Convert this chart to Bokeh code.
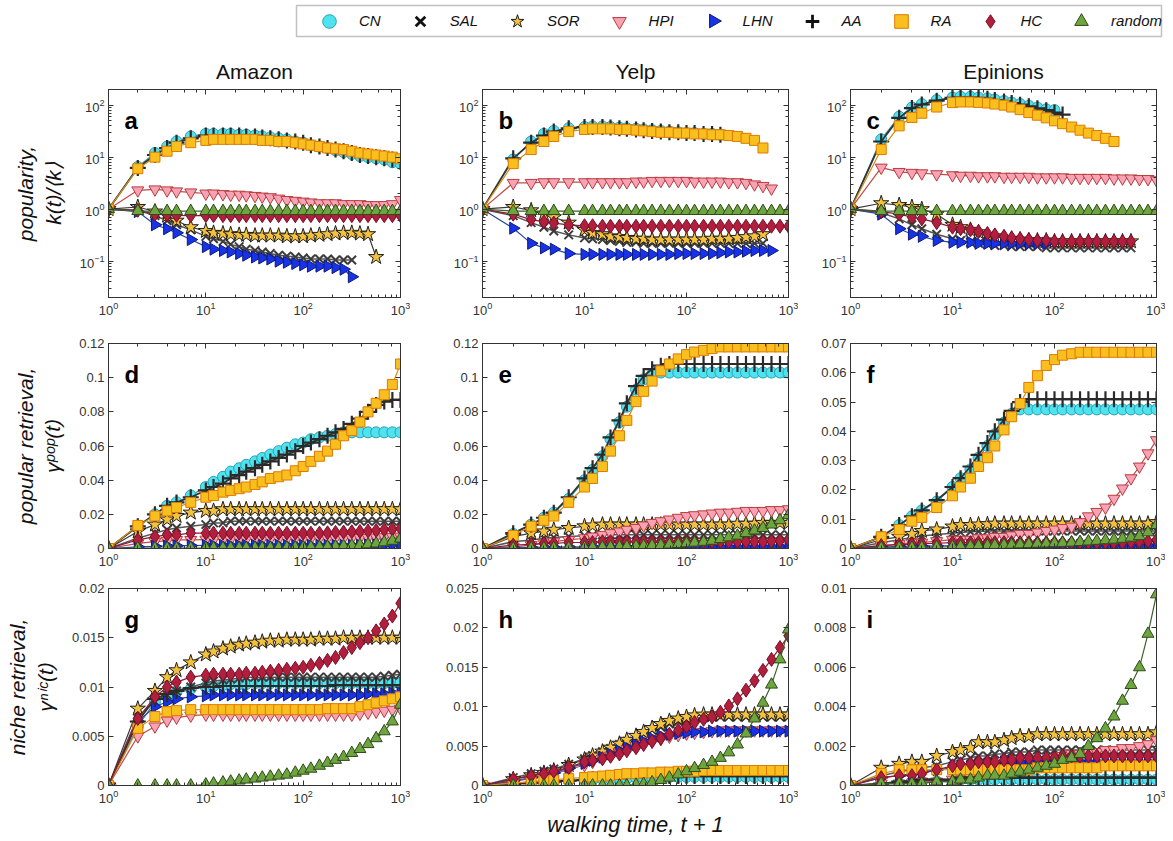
import math
from bokeh.plotting import figure
from bokeh.models import (Range1d, LogAxis, LinearAxis, LogTicker, FixedTicker,
                          Label, Legend, LegendItem, BoxAnnotation)
from bokeh.layouts import column, row
from bokeh.embed import file_html
from bokeh.resources import INLINE

FONT = "Liberation Sans"
AXC = "#333333"

# ---------------- data ----------------
T = [1, 2, 3, 4, 5, 7, 10, 12, 15, 18, 22, 26, 32, 38, 46, 56, 68, 83, 100, 120,
     147, 178, 215, 260, 316, 383, 464, 562, 681, 825, 1000]
METHODS = ["CN", "SAL", "SOR", "HPI", "LHN", "AA", "RA", "HC", "random"]
DATASETS = ["Amazon", "Yelp", "Epinions"]
PANEL_LETTERS = ["a", "b", "c", "d", "e", "f", "g", "h", "i"]
ROW_LABELS = ["popularity,\nk(t)/\u27e8k\u27e9",
              "popular retrieval,\n\u03b3\u1d56\u1d52\u1d56(t)",
              "niche retrieval,\n\u03b3\u207f\u2071\u1d9c(t)"]
X_LABEL = "walking time, t + 1"

Y_TICKS_POPRET_AMZ = [0, 0.02, 0.04, 0.06, 0.08, 0.1, 0.12]
Y_LABELS_POPRET_AMZ = ["0", "0.02", "0.04", "0.06", "0.08", "0.1", "0.12"]
Y_TICKS_POPRET_YLP = [0, 0.02, 0.04, 0.06, 0.08, 0.1, 0.12]
Y_LABELS_POPRET_YLP = ["0", "0.02", "0.04", "0.06", "0.08", "0.1", "0.12"]
Y_TICKS_POPRET_EPI = [0, 0.01, 0.02, 0.03, 0.04, 0.05, 0.06, 0.07]
Y_LABELS_POPRET_EPI = ["0", "0.01", "0.02", "0.03", "0.04", "0.05", "0.06", "0.07"]
Y_TICKS_NICHE_AMZ = [0, 0.005, 0.01, 0.015, 0.02]
Y_LABELS_NICHE_AMZ = ["0", "0.005", "0.01", "0.015", "0.02"]
Y_TICKS_NICHE_YLP = [0, 0.005, 0.01, 0.015, 0.02, 0.025]
Y_LABELS_NICHE_YLP = ["0", "0.005", "0.01", "0.015", "0.02", "0.025"]
Y_TICKS_NICHE_EPI = [0, 0.002, 0.004, 0.006, 0.008, 0.01]
Y_LABELS_NICHE_EPI = ["0", "0.002", "0.004", "0.006", "0.008", "0.01"]

# (a) Amazon popularity
AMZ_POP_CN = [1, 6.5, 12, 16, 20, 25, 28, 28, 28, 28, 27, 27, 26, 25, 24, 23, 22, 20, 19, 17, 16, 15, 13.5, 12.5, 11.5, 10.5, 10, 9.5, 9, 8, 7.5]
AMZ_POP_SAL = [1, 0.95, 0.75, 0.6, 0.5, 0.4, 0.3, 0.27, 0.24, 0.21, 0.19, 0.17, 0.16, 0.15, 0.14, 0.13, 0.125, 0.12, 0.115, 0.11, 0.11, 0.11, 0.105, 0.105, 0.105]
AMZ_POP_SOR = [1, 1.1, 0.9, 0.75, 0.6, 0.45, 0.38, 0.35, 0.34, 0.33, 0.32, 0.32, 0.31, 0.31, 0.31, 0.31, 0.3, 0.3, 0.3, 0.31, 0.32, 0.33, 0.34, 0.35, 0.35, 0.34, 0.33, 0.12]
AMZ_POP_HPI = [1, 2.3, 2.4, 2.3, 2.2, 2.1, 2.0, 2.0, 1.95, 1.9, 1.9, 1.85, 1.8, 1.75, 1.7, 1.6, 1.5, 1.45, 1.4, 1.35, 1.3, 1.3, 1.3, 1.25, 1.25, 1.25, 1.2, 1.2, 1.2, 1.25, 1.5]
AMZ_POP_LHN = [1, 0.9, 0.5, 0.42, 0.35, 0.26, 0.19, 0.17, 0.16, 0.15, 0.14, 0.13, 0.12, 0.115, 0.11, 0.1, 0.095, 0.09, 0.085, 0.08, 0.08, 0.08, 0.075, 0.07, 0.05]
AMZ_POP_AA = [1, 6.2, 11, 15, 19, 23, 26, 26, 26, 26, 26, 25, 25, 24, 23, 22, 21, 20, 19, 17, 16, 15, 14, 13, 12, 11, 10.5, 10, 9.5, 9, 8.2]
AMZ_POP_RA = [1, 6, 10, 13, 16, 19, 21, 22, 22, 22, 22, 22, 22, 21, 21, 20, 20, 19, 18, 17, 16, 15, 14.5, 14, 13, 12, 11.5, 11, 10.5, 10, 9.3]
AMZ_POP_HC = [1, 0.95, 0.8, 0.78, 0.76, 0.75, 0.75, 0.75, 0.75, 0.75, 0.75, 0.75, 0.75, 0.75, 0.75, 0.75, 0.75, 0.75, 0.75, 0.75, 0.75, 0.75, 0.75, 0.75, 0.75, 0.75, 0.75, 0.75, 0.75, 0.75, 0.75]
AMZ_POP_RND = [1, 0.92, 0.92, 0.92, 0.92, 0.92, 0.92, 0.92, 0.92, 0.92, 0.92, 0.92, 0.92, 0.92, 0.92, 0.92, 0.92, 0.92, 0.92, 0.92, 0.92, 0.92, 0.92, 0.92, 0.92, 0.92, 0.92, 0.92, 0.92, 0.92, 0.92]

# (b) Yelp popularity
YLP_POP_CN = [1, 9, 20, 28, 32, 36, 38, 39, 39, 38, 37, 36, 35, 34, 33, 32, 31, 30, 29, 29, 28, 28, 27]
YLP_POP_SAL = [1, 0.75, 0.55, 0.45, 0.38, 0.32, 0.28, 0.27, 0.26, 0.25, 0.24, 0.23, 0.23, 0.22, 0.22, 0.22, 0.22, 0.22, 0.22, 0.22, 0.22, 0.22, 0.22, 0.22, 0.22, 0.22, 0.22, 0.22]
YLP_POP_SOR = [1, 1.1, 0.95, 0.8, 0.7, 0.55, 0.4, 0.35, 0.33, 0.3, 0.29, 0.28, 0.27, 0.27, 0.26, 0.26, 0.26, 0.26, 0.26, 0.26, 0.26, 0.27, 0.27, 0.27, 0.28, 0.29, 0.3, 0.33]
YLP_POP_HPI = [1, 3.2, 3.2, 3.3, 3.3, 3.3, 3.3, 3.3, 3.3, 3.3, 3.3, 3.3, 3.4, 3.4, 3.5, 3.5, 3.5, 3.5, 3.5, 3.4, 3.4, 3.4, 3.4, 3.3, 3.3, 3.2, 3.0, 2.8, 2.5]
YLP_POP_LHN = [1, 0.43, 0.22, 0.18, 0.17, 0.14, 0.135, 0.135, 0.135, 0.135, 0.135, 0.135, 0.135, 0.135, 0.135, 0.135, 0.135, 0.14, 0.14, 0.14, 0.14, 0.14, 0.145, 0.15, 0.15, 0.155, 0.16, 0.16, 0.16]
YLP_POP_AA = [1, 9.5, 19, 26, 31, 36, 38, 38, 38, 37, 36, 35, 34, 33, 32, 31, 30, 30, 29, 29, 28, 28, 27]
YLP_POP_RA = [1, 7.5, 14, 20, 25, 31, 34, 35, 35, 35, 34, 34, 33, 32, 31, 30, 30, 29, 29, 28, 28, 27, 27, 26, 25, 23, 21, 15]
YLP_POP_HC = [1, 0.8, 0.63, 0.57, 0.54, 0.5, 0.48, 0.48, 0.47, 0.47, 0.47, 0.47, 0.47, 0.47, 0.47, 0.47, 0.47, 0.47, 0.47, 0.47, 0.47, 0.47, 0.47, 0.47, 0.47, 0.47, 0.47, 0.47, 0.47, 0.47, 0.47]
YLP_POP_RND = [1, 0.92, 0.92, 0.92, 0.92, 0.92, 0.92, 0.92, 0.92, 0.92, 0.92, 0.92, 0.92, 0.92, 0.92, 0.92, 0.92, 0.92, 0.92, 0.92, 0.92, 0.92, 0.92, 0.92, 0.92, 0.92, 0.92, 0.92, 0.92, 0.92, 0.92]

# (c) Epinions popularity
EPI_POP_CN = [1, 22, 60, 90, 105, 125, 140, 145, 145, 140, 135, 128, 120, 112, 105, 97, 90, 83, 80]
EPI_POP_SAL = [1, 0.85, 0.65, 0.5, 0.42, 0.33, 0.27, 0.25, 0.23, 0.22, 0.21, 0.2, 0.2, 0.19, 0.19, 0.19, 0.19, 0.18, 0.18, 0.18, 0.18, 0.18, 0.18, 0.18, 0.18, 0.18, 0.18, 0.18]
EPI_POP_SOR = [1, 1.3, 1.2, 1.1, 1.0, 0.8, 0.5, 0.45, 0.4, 0.36, 0.32, 0.3, 0.28, 0.27, 0.26, 0.25, 0.25, 0.25, 0.24, 0.24, 0.24, 0.24, 0.24, 0.24, 0.24, 0.24, 0.24, 0.24]
EPI_POP_HPI = [1, 6.3, 5.2, 5.0, 4.9, 4.7, 4.5, 4.4, 4.4, 4.3, 4.3, 4.3, 4.2, 4.2, 4.2, 4.2, 4.1, 4.1, 4.1, 4.1, 4.0, 4.0, 4.0, 4.0, 4.0, 3.9, 3.9, 3.9, 3.8, 3.8, 3.6]
EPI_POP_LHN = [1, 0.8, 0.42, 0.33, 0.3, 0.25, 0.23, 0.23, 0.23, 0.22, 0.22, 0.22, 0.22, 0.22, 0.22, 0.22, 0.22, 0.22]
EPI_POP_AA = [1, 20, 57, 88, 103, 122, 138, 140, 140, 138, 133, 125, 118, 110, 102, 95, 87, 80, 72, 66]
EPI_POP_RA = [1, 14, 40, 58, 70, 92, 112, 115, 115, 113, 110, 105, 100, 92, 82, 72, 64, 57, 50, 44, 38, 33, 29, 26, 23, 20]
EPI_POP_HC = [1, 0.9, 0.8, 0.7, 0.65, 0.55, 0.45, 0.42, 0.4, 0.37, 0.34, 0.32, 0.3, 0.28, 0.27, 0.26, 0.25, 0.25, 0.24, 0.24, 0.24, 0.24, 0.24, 0.24, 0.24, 0.24, 0.24, 0.24]
EPI_POP_RND = [1, 0.92, 0.92, 0.92, 0.92, 0.92, 0.92, 0.92, 0.92, 0.92, 0.92, 0.92, 0.92, 0.92, 0.92, 0.92, 0.92, 0.92, 0.92, 0.92, 0.92, 0.92, 0.92, 0.92, 0.92, 0.92, 0.92, 0.92, 0.92, 0.92, 0.92]

# (d) Amazon popular retrieval
AMZ_PR_CN = [0, 0.013, 0.02, 0.025, 0.027, 0.031, 0.036, 0.039, 0.042, 0.045, 0.047, 0.049, 0.051, 0.053, 0.055, 0.057, 0.059, 0.061, 0.062, 0.064, 0.065, 0.066, 0.067, 0.068, 0.068, 0.068, 0.068, 0.068, 0.068, 0.068, 0.068]
AMZ_PR_SAL = [0, 0.006, 0.009, 0.011, 0.012, 0.013, 0.014, 0.015, 0.015, 0.016, 0.016, 0.016, 0.016, 0.016, 0.016, 0.016, 0.016, 0.016, 0.016, 0.016, 0.016, 0.016, 0.016, 0.016, 0.016, 0.016, 0.016, 0.016, 0.016, 0.016, 0.016]
AMZ_PR_SOR = [0, 0.01, 0.014, 0.017, 0.019, 0.021, 0.022, 0.022, 0.023, 0.023, 0.023, 0.023, 0.023, 0.023, 0.023, 0.023, 0.023, 0.023, 0.023, 0.023, 0.023, 0.023, 0.023, 0.023, 0.023, 0.023, 0.023, 0.023, 0.023, 0.023, 0.023]
AMZ_PR_HPI = [0, 0.003, 0.004, 0.0045, 0.005, 0.005, 0.0052, 0.0052, 0.0053, 0.0053, 0.0054, 0.0054, 0.0055, 0.0055, 0.0055, 0.0056, 0.0056, 0.0057, 0.0057, 0.0058, 0.0058, 0.0059, 0.006, 0.006, 0.0061, 0.0062, 0.0063, 0.0064, 0.0066, 0.0068, 0.007]
AMZ_PR_LHN = [0, 0.001, 0.0013, 0.0015, 0.0016, 0.0017, 0.0018, 0.0018, 0.0018, 0.0018, 0.0018, 0.0018, 0.0018, 0.0018, 0.0018, 0.0018, 0.0018, 0.0018, 0.0018, 0.0018, 0.0018, 0.0018, 0.0018, 0.0018, 0.0019, 0.0019, 0.002, 0.002, 0.0021, 0.0022, 0.0025]
AMZ_PR_AA = [0, 0.013, 0.02, 0.025, 0.027, 0.03, 0.034, 0.036, 0.038, 0.041, 0.043, 0.045, 0.047, 0.049, 0.051, 0.053, 0.055, 0.057, 0.06, 0.062, 0.064, 0.066, 0.068, 0.07, 0.073, 0.076, 0.08, 0.084, 0.086, 0.087, 0.087]
AMZ_PR_RA = [0, 0.0135, 0.019, 0.022, 0.024, 0.027, 0.03, 0.031, 0.033, 0.034, 0.035, 0.036, 0.0375, 0.039, 0.041, 0.042, 0.043, 0.0455, 0.048, 0.051, 0.054, 0.057, 0.061, 0.066, 0.069, 0.074, 0.08, 0.085, 0.09, 0.096, 0.108]
AMZ_PR_HC = [0, 0.005, 0.007, 0.008, 0.008, 0.009, 0.009, 0.009, 0.009, 0.009, 0.009, 0.009, 0.009, 0.009, 0.009, 0.009, 0.009, 0.009, 0.009, 0.009, 0.009, 0.0092, 0.0094, 0.0096, 0.0098, 0.01, 0.0103, 0.0106, 0.011, 0.0113, 0.0117]
AMZ_PR_RND = [0, 0.0002, 0.0002, 0.0002, 0.0002, 0.0003, 0.0003, 0.0003, 0.0003, 0.0003, 0.0003, 0.0003, 0.0004, 0.0004, 0.0004, 0.0005, 0.0005, 0.0006, 0.0007, 0.0008, 0.0009, 0.001, 0.0012, 0.0014, 0.0017, 0.002, 0.0024, 0.0029, 0.0036, 0.0045, 0.0058]

# (e) Yelp popular retrieval
YLP_PR_CN = [0, 0.0085, 0.014, 0.018, 0.021, 0.029, 0.04, 0.046, 0.054, 0.064, 0.074, 0.083, 0.093, 0.099, 0.102, 0.103, 0.103, 0.103, 0.103, 0.103, 0.103, 0.103, 0.103, 0.103, 0.103, 0.103, 0.103, 0.103, 0.103, 0.103, 0.103]
YLP_PR_SAL = [0, 0.004, 0.005, 0.006, 0.0065, 0.007, 0.0075, 0.0078, 0.008, 0.008, 0.008, 0.008, 0.008, 0.008, 0.008, 0.008, 0.008, 0.008, 0.008, 0.008, 0.008, 0.008, 0.008, 0.008, 0.008, 0.008, 0.008, 0.008, 0.008, 0.008, 0.008]
YLP_PR_SOR = [0, 0.007, 0.009, 0.01, 0.011, 0.012, 0.013, 0.0135, 0.014, 0.014, 0.014, 0.014, 0.014, 0.014, 0.014, 0.014, 0.014, 0.014, 0.014, 0.014, 0.014, 0.014, 0.014, 0.014, 0.0145, 0.0145, 0.0145, 0.015, 0.015, 0.015, 0.015]
YLP_PR_HPI = [0, 0.001, 0.002, 0.003, 0.004, 0.005, 0.006, 0.007, 0.008, 0.009, 0.01, 0.011, 0.012, 0.0135, 0.015, 0.016, 0.017, 0.018, 0.019, 0.0195, 0.02, 0.0205, 0.021, 0.021, 0.0215, 0.022, 0.022, 0.022, 0.0225, 0.0225, 0.023]
YLP_PR_LHN = [0, 0.0005, 0.0007, 0.0008, 0.0008, 0.0009, 0.0009, 0.001, 0.001, 0.001, 0.001, 0.001, 0.001, 0.001, 0.001, 0.001, 0.001, 0.001, 0.001, 0.001, 0.001, 0.001, 0.001, 0.001, 0.001, 0.001, 0.001, 0.001, 0.0011, 0.0011, 0.0012]
YLP_PR_AA = [0, 0.009, 0.014, 0.018, 0.021, 0.03, 0.041, 0.047, 0.055, 0.065, 0.075, 0.085, 0.095, 0.101, 0.105, 0.107, 0.108, 0.108, 0.108, 0.108, 0.108, 0.108, 0.108, 0.108, 0.108, 0.108, 0.108, 0.108, 0.108, 0.108, 0.108]
YLP_PR_RA = [0, 0.0076, 0.013, 0.0165, 0.019, 0.027, 0.036, 0.041, 0.048, 0.057, 0.066, 0.075, 0.086, 0.092, 0.098, 0.104, 0.108, 0.111, 0.1135, 0.115, 0.116, 0.117, 0.118, 0.118, 0.118, 0.118, 0.118, 0.118, 0.118, 0.118, 0.118]
YLP_PR_HC = [0, 0.002, 0.0025, 0.003, 0.003, 0.0035, 0.0035, 0.0035, 0.004, 0.004, 0.004, 0.004, 0.004, 0.004, 0.004, 0.004, 0.004, 0.004, 0.004, 0.004, 0.004, 0.004, 0.004, 0.004, 0.004, 0.004, 0.004, 0.004, 0.0042, 0.0045, 0.005]
YLP_PR_RND = [0, 0.0001, 0.0002, 0.0002, 0.0003, 0.0004, 0.0005, 0.0006, 0.0007, 0.0008, 0.001, 0.0011, 0.0013, 0.0015, 0.0017, 0.002, 0.0023, 0.0026, 0.003, 0.0034, 0.0039, 0.0045, 0.0055, 0.0065, 0.0075, 0.009, 0.0105, 0.012, 0.014, 0.0165, 0.0195]

# (f) Epinions popular retrieval
EPI_PR_CN = [0, 0.004, 0.008, 0.011, 0.013, 0.016, 0.021, 0.024, 0.027, 0.031, 0.035, 0.039, 0.043, 0.046, 0.0475, 0.0475, 0.0475, 0.0475, 0.0475, 0.0475, 0.0475, 0.0475, 0.0475, 0.0475, 0.0475, 0.0475, 0.0475, 0.0475, 0.0475, 0.0475, 0.0475]
EPI_PR_SAL = [0, 0.002, 0.003, 0.0038, 0.0043, 0.0048, 0.0052, 0.0055, 0.0057, 0.0058, 0.006, 0.006, 0.006, 0.006, 0.006, 0.006, 0.006, 0.006, 0.006, 0.006, 0.006, 0.006, 0.006, 0.006, 0.006, 0.006, 0.006, 0.006, 0.006, 0.006, 0.006]
EPI_PR_SOR = [0, 0.003, 0.004, 0.005, 0.006, 0.0065, 0.0075, 0.008, 0.008, 0.0082, 0.0083, 0.0085, 0.0085, 0.0085, 0.0085, 0.0085, 0.0085, 0.0085, 0.0085, 0.0085, 0.0085, 0.0085, 0.0085, 0.0085, 0.0085, 0.0085, 0.0085, 0.0085, 0.0085, 0.0085, 0.009]
EPI_PR_HPI = [0, 0.001, 0.0015, 0.002, 0.002, 0.0025, 0.003, 0.003, 0.003, 0.0035, 0.0035, 0.004, 0.004, 0.0045, 0.005, 0.005, 0.0055, 0.006, 0.0065, 0.007, 0.0075, 0.009, 0.011, 0.0125, 0.014, 0.017, 0.0205, 0.024, 0.028, 0.0325, 0.037]
EPI_PR_LHN = [0, 0.0005, 0.0007, 0.0008, 0.0008, 0.0009, 0.0009, 0.001, 0.001, 0.001, 0.001, 0.001, 0.001, 0.001, 0.001, 0.001, 0.001, 0.001, 0.001, 0.001, 0.001, 0.001, 0.001, 0.001, 0.001, 0.001, 0.001, 0.001, 0.001, 0.001, 0.001]
EPI_PR_AA = [0, 0.004, 0.008, 0.011, 0.013, 0.0165, 0.021, 0.024, 0.028, 0.032, 0.036, 0.04, 0.044, 0.047, 0.05, 0.051, 0.051, 0.051, 0.051, 0.051, 0.051, 0.051, 0.051, 0.051, 0.051, 0.051, 0.051, 0.051, 0.051, 0.051, 0.051]
EPI_PR_RA = [0, 0.004, 0.0065, 0.0093, 0.0106, 0.014, 0.018, 0.021, 0.024, 0.028, 0.031, 0.035, 0.0405, 0.045, 0.0495, 0.055, 0.059, 0.0625, 0.0645, 0.066, 0.0665, 0.067, 0.067, 0.067, 0.067, 0.067, 0.067, 0.067, 0.067, 0.067, 0.067]
EPI_PR_HC = [0, 0.001, 0.0013, 0.0015, 0.0016, 0.0018, 0.002, 0.002, 0.002, 0.002, 0.002, 0.002, 0.002, 0.002, 0.002, 0.002, 0.002, 0.002, 0.002, 0.002, 0.002, 0.002, 0.002, 0.002, 0.002, 0.002, 0.0021, 0.0022, 0.0023, 0.0025, 0.003]
EPI_PR_RND = [0, 0.0002, 0.0003, 0.0003, 0.0004, 0.0005, 0.0006, 0.0007, 0.0008, 0.0009, 0.001, 0.0011, 0.0012, 0.0013, 0.0014, 0.0015, 0.0016, 0.0017, 0.0018, 0.0019, 0.002, 0.0022, 0.0024, 0.0026, 0.0028, 0.003, 0.0033, 0.0037, 0.0042, 0.0055, 0.008]

# (g) Amazon niche retrieval
AMZ_NR_CN = [0, 0.006, 0.0085, 0.009, 0.0095, 0.0098, 0.01, 0.0101, 0.0102, 0.0103, 0.0103, 0.0103, 0.0104, 0.0104, 0.0104, 0.0104, 0.0104, 0.0104, 0.0104, 0.0104, 0.0104, 0.0104, 0.0104, 0.0104, 0.0104, 0.0104, 0.0104, 0.0104, 0.0104, 0.0104, 0.0104]
AMZ_NR_SAL = [0, 0.007, 0.0085, 0.0092, 0.0096, 0.01, 0.0104, 0.0106, 0.0107, 0.0108, 0.0109, 0.011, 0.011, 0.011, 0.011, 0.011, 0.011, 0.011, 0.011, 0.011, 0.011, 0.011, 0.011, 0.011, 0.011, 0.011, 0.011, 0.011, 0.0111, 0.0112, 0.0113]
AMZ_NR_SOR = [0, 0.0078, 0.0096, 0.011, 0.0117, 0.0125, 0.0133, 0.0136, 0.0139, 0.0141, 0.0143, 0.0144, 0.0145, 0.0146, 0.0147, 0.0147, 0.0148, 0.0148, 0.0148, 0.0148, 0.0149, 0.0149, 0.0149, 0.015, 0.015, 0.015, 0.015, 0.015, 0.015, 0.015, 0.015]
AMZ_NR_HPI = [0, 0.005, 0.006, 0.0066, 0.0069, 0.0071, 0.0072, 0.0072, 0.0072, 0.0072, 0.0072, 0.0072, 0.0072, 0.0072, 0.0072, 0.0072, 0.0072, 0.0072, 0.0072, 0.0072, 0.0072, 0.0072, 0.0072, 0.0072, 0.0072, 0.0073, 0.0074, 0.0075, 0.0076, 0.0077, 0.0078]
AMZ_NR_LHN = [0, 0.0065, 0.008, 0.0085, 0.0088, 0.009, 0.0091, 0.0092, 0.0092, 0.0092, 0.0092, 0.0092, 0.0092, 0.0092, 0.0092, 0.0092, 0.0092, 0.0092, 0.0092, 0.0092, 0.0092, 0.0092, 0.0092, 0.0092, 0.0092, 0.0092, 0.0093, 0.0093, 0.0093, 0.0094, 0.0094]
AMZ_NR_AA = [0, 0.0065, 0.0088, 0.0093, 0.0096, 0.0099, 0.01, 0.01, 0.0101, 0.0101, 0.0101, 0.0101, 0.0101, 0.0101, 0.0101, 0.0101, 0.0101, 0.0101, 0.0101, 0.0101, 0.0101, 0.0101, 0.0102, 0.0102, 0.0102, 0.0102, 0.0102, 0.0102, 0.0102, 0.0102, 0.0102]
AMZ_NR_RA = [0, 0.0058, 0.007, 0.0075, 0.0076, 0.0077, 0.0077, 0.0077, 0.0077, 0.0077, 0.0077, 0.0077, 0.0077, 0.0077, 0.0077, 0.0077, 0.0077, 0.0077, 0.0077, 0.0077, 0.0077, 0.0078, 0.0078, 0.0078, 0.0078, 0.008, 0.0082, 0.0084, 0.0086, 0.0088, 0.009]
AMZ_NR_HC = [0, 0.0068, 0.009, 0.01, 0.0105, 0.011, 0.0112, 0.0113, 0.0113, 0.0113, 0.0113, 0.0114, 0.0114, 0.0115, 0.0116, 0.0117, 0.0118, 0.0119, 0.012, 0.0122, 0.0124, 0.0127, 0.013, 0.0135, 0.014, 0.0145, 0.015, 0.0157, 0.0164, 0.0172, 0.0185]
AMZ_NR_RND = [0, 0, 0, 0, 0, 0, 0.0001, 0.0002, 0.0003, 0.0004, 0.0005, 0.0006, 0.0007, 0.0008, 0.0009, 0.001, 0.0011, 0.0013, 0.0015, 0.0017, 0.002, 0.0023, 0.0026, 0.0029, 0.0033, 0.0037, 0.0042, 0.0048, 0.0055, 0.0065, 0.0082]

# (h) Yelp niche retrieval
YLP_NR_CN = [0, 0.0002, 0.0003, 0.0004, 0.0005, 0.0006, 0.0007, 0.0007, 0.0008, 0.0008, 0.0009, 0.0009, 0.001, 0.001, 0.001, 0.0011, 0.0011, 0.0011, 0.0011, 0.0011, 0.0011, 0.0011, 0.0011, 0.0011, 0.0011, 0.0011, 0.0011, 0.0011, 0.0011, 0.0011, 0.0011]
YLP_NR_SAL = [0, 0.001, 0.0015, 0.0018, 0.0021, 0.0027, 0.0034, 0.0038, 0.0043, 0.0047, 0.0052, 0.0056, 0.006, 0.0065, 0.007, 0.0074, 0.0078, 0.0081, 0.0083, 0.0085, 0.0086, 0.0087, 0.0087, 0.0087, 0.0087, 0.0087, 0.0087, 0.0087, 0.0087, 0.0087, 0.0087]
YLP_NR_SOR = [0, 0.0008, 0.0013, 0.0016, 0.0019, 0.0026, 0.0033, 0.0038, 0.0043, 0.0048, 0.0053, 0.0058, 0.0063, 0.0068, 0.0073, 0.0078, 0.0082, 0.0085, 0.0087, 0.0089, 0.009, 0.009, 0.009, 0.009, 0.009, 0.009, 0.009, 0.009, 0.009, 0.009, 0.009]
YLP_NR_HPI = [0, 0.0005, 0.0009, 0.0012, 0.0015, 0.002, 0.0026, 0.003, 0.0034, 0.0038, 0.0042, 0.0046, 0.005, 0.0053, 0.0056, 0.0059, 0.0062, 0.0064, 0.0066, 0.0067, 0.0068, 0.0069, 0.007, 0.007, 0.007, 0.007, 0.007, 0.007, 0.007, 0.007, 0.007]
YLP_NR_LHN = [0, 0.0006, 0.001, 0.0013, 0.0016, 0.0022, 0.0028, 0.0032, 0.0036, 0.004, 0.0044, 0.0048, 0.0052, 0.0056, 0.006, 0.0063, 0.0065, 0.0066, 0.0067, 0.0068, 0.0068, 0.0069, 0.0069, 0.0069, 0.0069, 0.0069, 0.0069, 0.0069, 0.0069, 0.0069, 0.0069]
YLP_NR_AA = [0, 0.0002, 0.0003, 0.0004, 0.0005, 0.0006, 0.0007, 0.0008, 0.0008, 0.0009, 0.0009, 0.001, 0.001, 0.0011, 0.0011, 0.0012, 0.0012, 0.0012, 0.0012, 0.0012, 0.0012, 0.0012, 0.0012, 0.0012, 0.0012, 0.0012, 0.0012, 0.0012, 0.0012, 0.0012, 0.0012]
YLP_NR_RA = [0, 0.0003, 0.0005, 0.0006, 0.0007, 0.0009, 0.001, 0.0011, 0.0012, 0.0013, 0.0014, 0.0015, 0.0015, 0.0016, 0.0016, 0.0017, 0.0017, 0.0018, 0.0018, 0.0018, 0.0019, 0.0019, 0.0019, 0.0019, 0.0019, 0.0019, 0.0019, 0.0019, 0.0019, 0.0019, 0.0019]
YLP_NR_HC = [0, 0.0008, 0.0012, 0.0015, 0.0018, 0.0023, 0.003, 0.0032, 0.0034, 0.0037, 0.004, 0.0044, 0.0048, 0.0052, 0.0056, 0.006, 0.0065, 0.007, 0.0075, 0.008, 0.0084, 0.0087, 0.0093, 0.0101, 0.011, 0.0121, 0.0133, 0.0146, 0.016, 0.0175, 0.019]
YLP_NR_RND = [0, 0, 0, 0, 0, 0, 0, 0, 0, 0, 0, 0, 0.0001, 0.0002, 0.0004, 0.0007, 0.001, 0.0014, 0.0018, 0.0022, 0.0026, 0.003, 0.0035, 0.0042, 0.0052, 0.0066, 0.0085, 0.0105, 0.0128, 0.016, 0.0198]

# (i) Epinions niche retrieval
EPI_NR_CN = [0, 0.0001, 0.0001, 0.0002, 0.0002, 0.0002, 0.0002, 0.0003, 0.0003, 0.0003, 0.0003, 0.0003, 0.0003, 0.0003, 0.0003, 0.0003, 0.0003, 0.0003, 0.0003, 0.0003, 0.0003, 0.0003, 0.0003, 0.0003, 0.0003, 0.0003, 0.0003, 0.0003, 0.0003, 0.0003, 0.0003]
EPI_NR_SAL = [0, 0.0005, 0.0007, 0.0008, 0.0009, 0.001, 0.0012, 0.0013, 0.0014, 0.0015, 0.0015, 0.0016, 0.0016, 0.0017, 0.0017, 0.0017, 0.0018, 0.0018, 0.0018, 0.0018, 0.0018, 0.0018, 0.0018, 0.0018, 0.0018, 0.0018, 0.0018, 0.0018, 0.0018, 0.0018, 0.0018]
EPI_NR_SOR = [0, 0.0009, 0.0011, 0.0012, 0.0012, 0.0015, 0.0017, 0.0018, 0.0019, 0.0022, 0.0022, 0.0022, 0.0023, 0.0024, 0.0025, 0.0025, 0.0026, 0.0026, 0.0026, 0.0026, 0.0026, 0.0026, 0.0026, 0.0026, 0.0026, 0.0026, 0.0026, 0.0026, 0.0026, 0.0026, 0.0027]
EPI_NR_HPI = [0, 0.0001, 0.0001, 0.0001, 0.0002, 0.0002, 0.0003, 0.0003, 0.0004, 0.0005, 0.0006, 0.0007, 0.0008, 0.0009, 0.001, 0.0011, 0.0012, 0.0013, 0.0014, 0.0015, 0.0016, 0.0016, 0.0017, 0.0017, 0.0018, 0.0018, 0.0019, 0.0019, 0.002, 0.0021, 0.0023]
EPI_NR_LHN = [0, 0.0004, 0.0005, 0.0006, 0.0007, 0.0008, 0.0009, 0.001, 0.001, 0.0011, 0.0011, 0.0011, 0.0012, 0.0012, 0.0012, 0.0012, 0.0012, 0.0012, 0.0012, 0.0012, 0.0012, 0.0012, 0.0012, 0.0012, 0.0012, 0.0012, 0.0012, 0.0012, 0.0012, 0.0012, 0.0012]
EPI_NR_AA = [0, 0.0001, 0.0002, 0.0002, 0.0003, 0.0003, 0.0003, 0.0004, 0.0004, 0.0004, 0.0004, 0.0004, 0.0004, 0.0004, 0.0004, 0.0004, 0.0004, 0.0004, 0.0004, 0.0004, 0.0004, 0.0004, 0.0004, 0.0004, 0.0004, 0.0004, 0.0004, 0.0004, 0.0004, 0.0004, 0.0004]
EPI_NR_RA = [0, 0.0006, 0.0008, 0.0008, 0.0008, 0.0008, 0.0008, 0.0008, 0.0008, 0.0008, 0.0008, 0.0008, 0.0008, 0.0008, 0.0008, 0.0008, 0.0009, 0.0009, 0.0009, 0.0009, 0.0009, 0.0009, 0.0009, 0.0009, 0.001, 0.001, 0.001, 0.001, 0.001, 0.001, 0.001]
EPI_NR_HC = [0, 0.0004, 0.0005, 0.0005, 0.0006, 0.0008, 0.001, 0.0011, 0.0011, 0.0012, 0.0012, 0.0012, 0.0013, 0.0013, 0.0014, 0.0014, 0.0014, 0.0014, 0.0014, 0.0015, 0.0015, 0.0015, 0.0015, 0.0015, 0.0015, 0.0015, 0.0015, 0.0015, 0.0015, 0.0015, 0.0015]
EPI_NR_RND = [0, 0.0001, 0.0001, 0.0001, 0.0001, 0.0002, 0.0002, 0.0003, 0.0003, 0.0004, 0.0005, 0.0005, 0.0005, 0.0006, 0.0007, 0.0008, 0.0009, 0.001, 0.0011, 0.0013, 0.0014, 0.0016, 0.002, 0.0024, 0.0029, 0.0035, 0.0043, 0.0051, 0.006, 0.0077, 0.0097]

PANEL_DATA = [
    [AMZ_POP_CN, AMZ_POP_SAL, AMZ_POP_SOR, AMZ_POP_HPI, AMZ_POP_LHN, AMZ_POP_AA, AMZ_POP_RA, AMZ_POP_HC, AMZ_POP_RND],
    [YLP_POP_CN, YLP_POP_SAL, YLP_POP_SOR, YLP_POP_HPI, YLP_POP_LHN, YLP_POP_AA, YLP_POP_RA, YLP_POP_HC, YLP_POP_RND],
    [EPI_POP_CN, EPI_POP_SAL, EPI_POP_SOR, EPI_POP_HPI, EPI_POP_LHN, EPI_POP_AA, EPI_POP_RA, EPI_POP_HC, EPI_POP_RND],
    [AMZ_PR_CN, AMZ_PR_SAL, AMZ_PR_SOR, AMZ_PR_HPI, AMZ_PR_LHN, AMZ_PR_AA, AMZ_PR_RA, AMZ_PR_HC, AMZ_PR_RND],
    [YLP_PR_CN, YLP_PR_SAL, YLP_PR_SOR, YLP_PR_HPI, YLP_PR_LHN, YLP_PR_AA, YLP_PR_RA, YLP_PR_HC, YLP_PR_RND],
    [EPI_PR_CN, EPI_PR_SAL, EPI_PR_SOR, EPI_PR_HPI, EPI_PR_LHN, EPI_PR_AA, EPI_PR_RA, EPI_PR_HC, EPI_PR_RND],
    [AMZ_NR_CN, AMZ_NR_SAL, AMZ_NR_SOR, AMZ_NR_HPI, AMZ_NR_LHN, AMZ_NR_AA, AMZ_NR_RA, AMZ_NR_HC, AMZ_NR_RND],
    [YLP_NR_CN, YLP_NR_SAL, YLP_NR_SOR, YLP_NR_HPI, YLP_NR_LHN, YLP_NR_AA, YLP_NR_RA, YLP_NR_HC, YLP_NR_RND],
    [EPI_NR_CN, EPI_NR_SAL, EPI_NR_SOR, EPI_NR_HPI, EPI_NR_LHN, EPI_NR_AA, EPI_NR_RA, EPI_NR_HC, EPI_NR_RND],
]
LIN_TICKS = [
    (Y_TICKS_POPRET_AMZ, Y_LABELS_POPRET_AMZ), (Y_TICKS_POPRET_YLP, Y_LABELS_POPRET_YLP),
    (Y_TICKS_POPRET_EPI, Y_LABELS_POPRET_EPI), (Y_TICKS_NICHE_AMZ, Y_LABELS_NICHE_AMZ),
    (Y_TICKS_NICHE_YLP, Y_LABELS_NICHE_YLP), (Y_TICKS_NICHE_EPI, Y_LABELS_NICHE_EPI),
]
POP_RANGE = (0.02, 200)

# ---------------- styles ----------------
STYLE = {
    "CN":     dict(marker="circle", size=11, fill="#4FE3F0", edge="#2A9FB2", ew=1.0, line="#2A8E9C", lw=1.2, angle=0.0),
    "SAL":    dict(marker="x", size=12, fill=None, edge="#3C3C3C", ew=2.0, line="#555555", lw=1.5, angle=0.0),
    "SOR":    dict(marker="star", size=16, fill="#F4C13C", edge="#1E1E1E", ew=1.0, line="#3A3A3A", lw=1.2, angle=0.0),
    "HPI":    dict(marker="inverted_triangle", size=12, fill="#F7A3B5", edge="#B83C3C", ew=1.0, line="#C04A4A", lw=1.2, angle=0.0),
    "LHN":    dict(marker="triangle", size=12, fill="#1832E6", edge="#0C1A7A", ew=1.0, line="#2A4C9E", lw=1.2, angle=-math.pi / 2),
    "AA":     dict(marker="cross", size=16, fill=None, edge="#2A2A2A", ew=2.2, line="#333333", lw=1.8, angle=0.0),
    "RA":     dict(marker="square", size=10, fill="#F9BF1F", edge="#DE7A00", ew=1.0, line="#D88A12", lw=1.2, angle=0.0),
    "HC":     dict(marker="diamond", size=14, fill="#B21E3D", edge="#780F26", ew=1.0, line="#8A1A31", lw=1.2, angle=0.0),
    "random": dict(marker="triangle", size=12, fill="#6FA53F", edge="#2E4A1C", ew=1.0, line="#3E602A", lw=1.2, angle=0.0),
}

# geometry: (border_left, frame_width, border_right) per column; (top, frame_h, bottom) per row
COL_GEOM = [(108, 292, 10), (72, 306, 10), (52, 306, 9)]
ROW_GEOM = [(39, 208, 26), (20, 205, 25), (15, 197, 56)]
HDR_W, HDR_H = 1165, 50


def style_axis(ax, show_labels=True):
    ax.axis_line_color = AXC
    ax.axis_line_width = 1
    ax.major_tick_line_color = AXC
    ax.minor_tick_line_color = AXC
    ax.major_tick_in = 5
    ax.major_tick_out = 0
    ax.minor_tick_in = 3
    ax.minor_tick_out = 0
    ax.major_label_text_font = FONT
    ax.major_label_text_color = "#333333"
    if show_labels:
        ax.major_label_text_font_size = "13px"
        ax.major_label_standoff = 4
    else:
        ax.major_label_text_font_size = "1px"
        ax.major_label_text_alpha = 0
        ax.major_label_standoff = 0


def make_panel(idx):
    r, c = divmod(idx, 3)
    bl, fw, br = COL_GEOM[c]
    bt, fh, bb = ROW_GEOM[r]
    ylog = (r == 0)
    if ylog:
        yr = Range1d(*POP_RANGE)
    else:
        ticks, labels = LIN_TICKS[(r - 1) * 3 + c]
        yr = Range1d(0, ticks[-1])
    p = figure(width=bl + fw + br, height=bt + fh + bb,
               x_axis_type="log", y_axis_type="log" if ylog else "linear",
               x_range=Range1d(1, 1000), y_range=yr,
               output_backend="svg", toolbar_location=None,
               min_border_left=bl, min_border_right=br,
               min_border_top=bt, min_border_bottom=bb)
    p.xgrid.visible = False
    p.ygrid.visible = False
    p.outline_line_color = AXC
    p.outline_line_width = 1
    p.background_fill_color = "white"
    p.border_fill_color = "white"

    xa = p.below[0]
    ya = p.left[0]
    style_axis(xa)
    style_axis(ya)
    if not ylog:
        ya.ticker = FixedTicker(ticks=ticks)
        ya.major_label_overrides = dict(zip(ticks, labels))

    if c == 0:
        ya.axis_label = ROW_LABELS[r]
        ya.axis_label_text_font = FONT
        ya.axis_label_text_font_style = "italic"
        ya.axis_label_text_font_size = "21px"
        ya.axis_label_text_color = "#111111"
        ya.axis_label_standoff = 12
    if r == 2 and c == 1:
        xa.axis_label = X_LABEL
        xa.axis_label_text_font = FONT
        xa.axis_label_text_font_style = "italic"
        xa.axis_label_text_font_size = "22px"
        xa.axis_label_text_color = "#111111"
        xa.axis_label_standoff = 6

    # mirrored ticks on top and right
    top = LogAxis(ticker=LogTicker())
    style_axis(top, show_labels=False)
    p.add_layout(top, "above")
    if ylog:
        right = LogAxis(ticker=LogTicker())
    else:
        right = LinearAxis(ticker=FixedTicker(ticks=ticks))
    style_axis(right, show_labels=False)
    p.add_layout(right, "right")

    if r == 0:
        p.title.text = DATASETS[c]
        p.title.align = "center"
        p.title.text_font = FONT
        p.title.text_font_size = "21px"
        p.title.text_font_style = "normal"
        p.title.text_color = "#111111"
        p.title.standoff = 13

    series = PANEL_DATA[idx]
    for m, ys in zip(METHODS, series):
        st = STYLE[m]
        xs = T[:len(ys)]
        ys = ys[:len(xs)]
        p.line(xs, ys, line_color=st["line"], line_width=st["lw"])
        p.scatter(xs, ys, marker=st["marker"], size=st["size"],
                  fill_color=st["fill"], line_color=st["edge"],
                  line_width=st["ew"], angle=st["angle"])

    # panel letter, 16px from left, baseline 31px below frame top
    lx = 10 ** (16.0 / fw * 3.0)
    if ylog:
        lo, hi = math.log10(POP_RANGE[0]), math.log10(POP_RANGE[1])
        ly = 10 ** (hi - 31.0 / fh * (hi - lo))
    else:
        ly = ticks[-1] * (1 - 31.0 / fh)
    p.add_layout(Label(x=lx, y=ly, text=PANEL_LETTERS[idx], text_font=FONT,
                       text_font_style="bold", text_font_size="24px",
                       text_color="black", text_baseline="alphabetic"))
    return p


# ---------------- header with legend ----------------
LEG_X, LEG_Y = 312, 12.5          # legend bottom-left (screen px inside header)
GLYPH = 34
LEG_STANDOFF, LEG_SPACING = 13, 22
hdr = figure(width=HDR_W, height=HDR_H, x_range=Range1d(0, HDR_W), y_range=Range1d(0, HDR_H),
             x_axis_location=None, y_axis_location=None, output_backend="svg",
             toolbar_location=None, min_border=0)
hdr.grid.visible = False
hdr.outline_line_color = None
items = []
for m in METHODS:
    st = STYLE[m]
    bold = m in ("SAL", "AA")
    alpha = 0.0 if m == "LHN" else 1.0   # LHN glyph redrawn rotated below
    rr = hdr.scatter(x=[-100], y=[-100], marker=st["marker"], fill_color=st["fill"],
                     line_color="#111111" if bold else st["edge"],
                     line_width=2.8 if bold else 1.0,
                     fill_alpha=alpha, line_alpha=alpha)
    items.append(LegendItem(label=m, renderers=[rr]))
leg = Legend(items=items, orientation="horizontal", location=(LEG_X, LEG_Y),
             glyph_width=GLYPH, glyph_height=GLYPH, label_standoff=LEG_STANDOFF,
             spacing=LEG_SPACING, padding=0, margin=0, border_line_alpha=0,
             background_fill_alpha=0, label_text_font=FONT, label_text_font_style="italic",
             label_text_font_size="15px", label_text_color="#111111")
hdr.add_layout(leg)
# right-pointing LHN legend glyph (Bokeh legends ignore marker rotation)
st = STYLE["LHN"]
hdr.scatter(x=[713], y=[LEG_Y + GLYPH / 2], marker="triangle", size=GLYPH * 0.4,
            angle=st["angle"], fill_color=st["fill"], line_color=st["edge"], line_width=1.0)
hdr.add_layout(BoxAnnotation(left=296, right=1161, bottom=14, top=45,
                             fill_alpha=0, line_color="#333333", line_width=1.5))

panels = [make_panel(i) for i in range(9)]
layout = column(hdr, row(panels[0:3]), row(panels[3:6]), row(panels[6:9]))

open("out.html", "w").write(file_html(layout, INLINE))
